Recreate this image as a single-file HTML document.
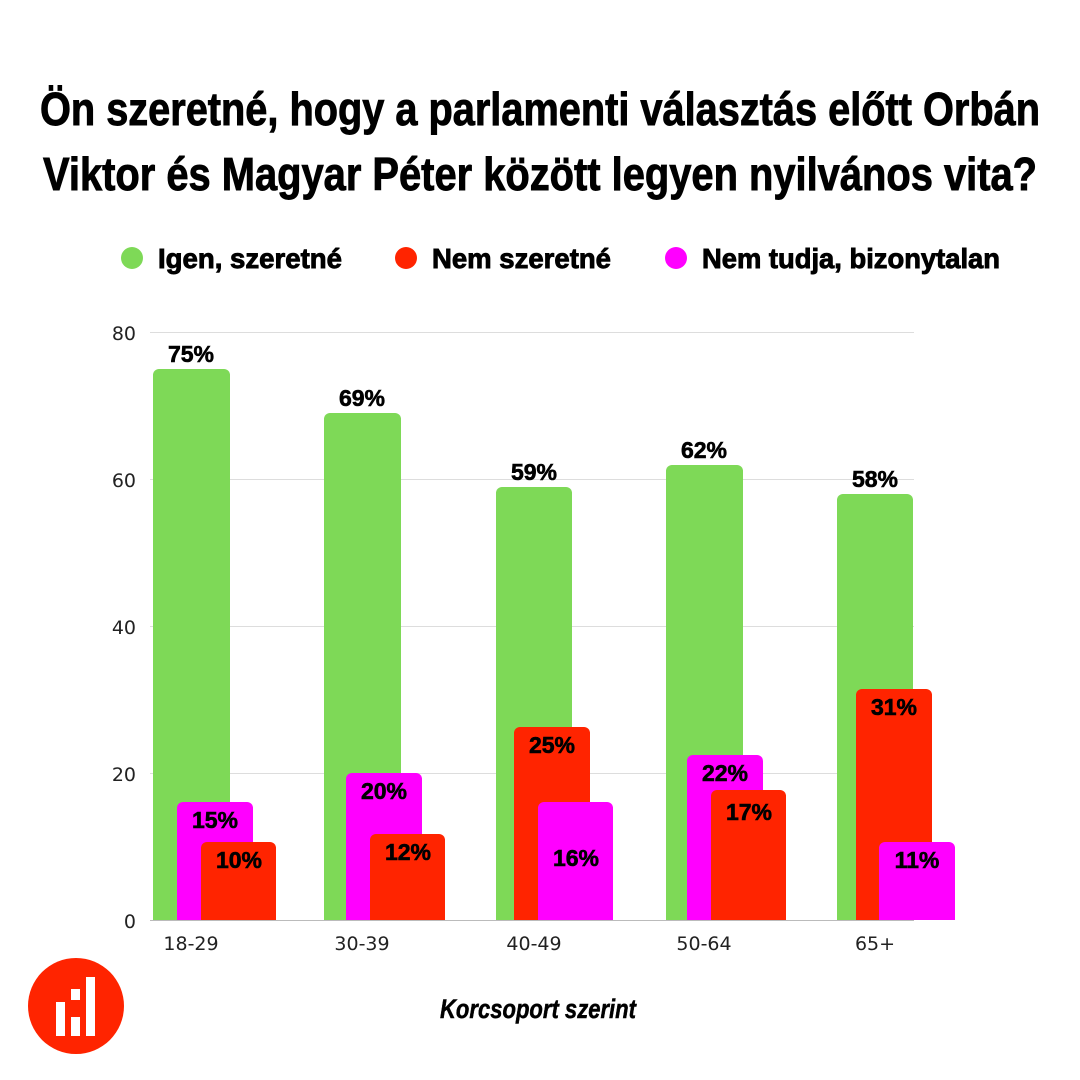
<!DOCTYPE html>
<html><head><meta charset="utf-8"><style>
html,body{margin:0;padding:0;background:#fff;}
svg{display:block;}
.t{font-family:"Liberation Sans Narrow","Liberation Sans",sans-serif;font-weight:bold;fill:#000;stroke:#000;stroke-width:0.9px;}
.a{font-family:"DejaVu Sans","Liberation Sans",sans-serif;font-size:19px;fill:#222;}
</style></head><body>
<svg width="1080" height="1080" viewBox="0 0 1080 1080" xmlns="http://www.w3.org/2000/svg">
<rect width="1080" height="1080" fill="#fff"/>
<text class="t" x="40" y="125" font-size="46" textLength="1000" lengthAdjust="spacingAndGlyphs">Ön szeretné, hogy a parlamenti választás előtt Orbán</text>
<text class="t" x="43" y="190" font-size="46" textLength="994" lengthAdjust="spacingAndGlyphs">Viktor és Magyar Péter között legyen nyilvános vita?</text>
<circle cx="132" cy="258" r="11" fill="#7ed957"/>
<circle cx="406" cy="258" r="11" fill="#ff2400"/>
<circle cx="676" cy="258" r="11" fill="#ff00ff"/>
<text class="t" x="158" y="268" font-size="28" textLength="184" lengthAdjust="spacingAndGlyphs">Igen, szeretné</text>
<text class="t" x="432" y="268" font-size="28" textLength="179" lengthAdjust="spacingAndGlyphs">Nem szeretné</text>
<text class="t" x="702" y="268" font-size="28" textLength="298" lengthAdjust="spacingAndGlyphs">Nem tudja, bizonytalan</text>
<g stroke="#ddd" stroke-width="1">
<line x1="150" y1="332.5" x2="914" y2="332.5"/>
<line x1="150" y1="479.5" x2="914" y2="479.5"/>
<line x1="150" y1="626.5" x2="914" y2="626.5"/>
<line x1="150" y1="773.5" x2="914" y2="773.5"/>
</g>
<g class="a" text-anchor="end">
<text x="136" y="340">80</text>
<text x="136" y="487">60</text>
<text x="136" y="634">40</text>
<text x="136" y="781">20</text>
<text x="136" y="928">0</text>
</g>
<g id="bars">
<path d="M153 920V375a6 6 0 0 1 6-6h65a6 6 0 0 1 6 6V920Z" fill="#7ed957"/>
<path d="M177 920V808a6 6 0 0 1 6-6h64a6 6 0 0 1 6 6V920Z" fill="#ff00ff"/>
<path d="M201 920V848a6 6 0 0 1 6-6h63a6 6 0 0 1 6 6V920Z" fill="#ff2400"/>
<path d="M324 920V419a6 6 0 0 1 6-6h65a6 6 0 0 1 6 6V920Z" fill="#7ed957"/>
<path d="M346 920V779a6 6 0 0 1 6-6h64a6 6 0 0 1 6 6V920Z" fill="#ff00ff"/>
<path d="M370 920V840a6 6 0 0 1 6-6h63a6 6 0 0 1 6 6V920Z" fill="#ff2400"/>
<path d="M496 920V493a6 6 0 0 1 6-6h64a6 6 0 0 1 6 6V920Z" fill="#7ed957"/>
<path d="M514 920V733a6 6 0 0 1 6-6h64a6 6 0 0 1 6 6V920Z" fill="#ff2400"/>
<path d="M538 920V808a6 6 0 0 1 6-6h63a6 6 0 0 1 6 6V920Z" fill="#ff00ff"/>
<path d="M666 920V471a6 6 0 0 1 6-6h65a6 6 0 0 1 6 6V920Z" fill="#7ed957"/>
<path d="M687 920V761a6 6 0 0 1 6-6h64a6 6 0 0 1 6 6V920Z" fill="#ff00ff"/>
<path d="M711 920V796a6 6 0 0 1 6-6h63a6 6 0 0 1 6 6V920Z" fill="#ff2400"/>
<path d="M837 920V500a6 6 0 0 1 6-6h64a6 6 0 0 1 6 6V920Z" fill="#7ed957"/>
<path d="M856 920V695a6 6 0 0 1 6-6h64a6 6 0 0 1 6 6V920Z" fill="#ff2400"/>
<path d="M879 920V848a6 6 0 0 1 6-6h64a6 6 0 0 1 6 6V920Z" fill="#ff00ff"/>
</g>
<line x1="150" y1="920.5" x2="914" y2="920.5" stroke="#bbb" stroke-width="1"/>
<g class="t" font-size="23" text-anchor="middle" style="stroke-width:0.6px">
<text x="191" y="362">75%</text>
<text x="362" y="406">69%</text>
<text x="534" y="480">59%</text>
<text x="704" y="458">62%</text>
<text x="875" y="487">58%</text>
<text x="215" y="828">15%</text>
<text x="239" y="868">10%</text>
<text x="384" y="799">20%</text>
<text x="408" y="860">12%</text>
<text x="552" y="753">25%</text>
<text x="576" y="866">16%</text>
<text x="725" y="781">22%</text>
<text x="749" y="820">17%</text>
<text x="894" y="715">31%</text>
<text x="917" y="868">11%</text>
</g>
<g class="a" text-anchor="middle">
<text x="191" y="950">18-29</text>
<text x="362" y="950">30-39</text>
<text x="534" y="950">40-49</text>
<text x="704" y="950">50-64</text>
<text x="875" y="950">65+</text>
</g>
<text class="t" x="538" y="1018" font-size="27" font-style="italic" text-anchor="middle" textLength="196" lengthAdjust="spacingAndGlyphs" style="stroke-width:0.5px">Korcsoport szerint</text>
<circle cx="76" cy="1006" r="48" fill="#ff2400"/>
<g fill="#fff">
<rect x="56" y="1002" width="9" height="34"/>
<rect x="71" y="989" width="9" height="11"/>
<rect x="71" y="1017" width="9" height="19"/>
<rect x="86" y="977" width="9" height="59"/>
</g>
</svg>
</body></html>
